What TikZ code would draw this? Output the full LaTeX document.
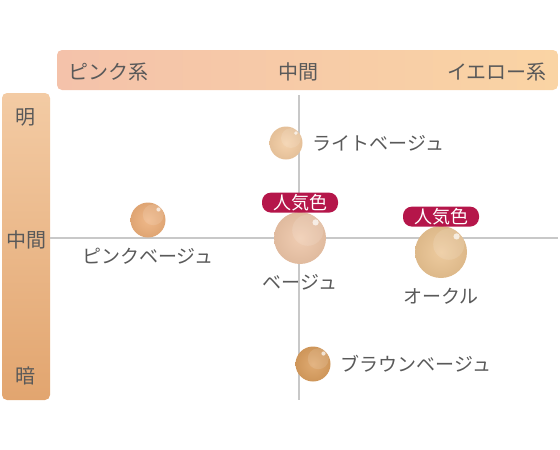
\documentclass[tikz,border=0pt]{standalone}
\usepackage{fontspec}
\setmainfont{Noto Sans CJK JP}
\usepackage{tikz}
\usetikzlibrary{positioning, calc}
\definecolor{txtgray}{HTML}{595959}
\definecolor{axisgray}{HTML}{C8C8C8}
\definecolor{badgered}{HTML}{B5164A}
\definecolor{barpinkL}{HTML}{F4C2AA}
\definecolor{barpinkR}{HTML}{FAD4A4}
\definecolor{sidetop}{HTML}{F3CBA4}
\definecolor{sidebot}{HTML}{E2A56F}
\definecolor{lightbeige}{HTML}{F3CCA2}
\definecolor{pinkbeige}{HTML}{EDAF7A}
\definecolor{beige}{HTML}{EEC6A8}
\definecolor{ochre}{HTML}{EBC492}
\definecolor{brownbeige}{HTML}{DB9F5F}

\begin{document}
\begin{tikzpicture}[
    x=1pt, y=-1pt,
    % ── styles ──
    ball/.style={circle, inner sep=0pt, minimum size=#1,
                 shading=radial, draw=none,
                 path picture={
                   \fill[white, opacity=0.12]
                     ($(path picture bounding box.center)!0.3!(path picture bounding box.north east)$)
                     circle (0.3*#1);
                   \fill[white, opacity=0.7]
                     ($(path picture bounding box.center)!0.6!(path picture bounding box.north east)$)
                     circle (0.06*#1);
                 }},
    shadeof/.style={inner color=#1!88!white, outer color=#1!94!black},
    badge/.style={rectangle, rounded corners=9pt, fill=badgered, text=white,
                  minimum width=76pt, minimum height=20pt, inner sep=0pt,
                  font=\fontsize{18}{18}\selectfont},
    lbl/.style={text=txtgray, font=\fontsize{19}{19}\selectfont, inner sep=0pt},
    axislbl/.style={text=txtgray, font=\fontsize{20}{20}\selectfont, inner sep=0pt},
    axisline/.style={draw=axisgray, line width=1.2pt}
]
\useasboundingbox (0,0) rectangle (560,450);

% ═══ Bars ═══
\shade[left color=barpinkL, right color=barpinkR, rounded corners=5pt]
  (57,50) rectangle (558,90);
\shade[top color=sidetop, bottom color=sidebot, rounded corners=5pt]
  (2,93) rectangle (50,400);

% ═══ Axes ═══
\coordinate (vtop) at (299,95);
\coordinate (vbot) at (299,400);
\coordinate (hleft) at (50,238);
\coordinate (hright) at (558,238);
\draw[axisline] (vtop) -- (vbot);
\draw[axisline] (hleft) -- (hright);

% ═══ Axis labels ═══
\node[axislbl] (pink)   at (108,72)  {ピンク系};
\node[axislbl] (midx)   at (298,72)  {中間};
\node[axislbl] (yellow) at (497,72)  {イエロー系};
\node[axislbl] (light)  at (26,117)  {明};
\node[axislbl] (midy)   at (26,240)  {中間};
\node[axislbl] (dark)   at (26,376)  {暗};

% ═══ Balls ═══
\node[ball=33pt, shadeof=lightbeige] (lb) at (286,143) {};
\node[ball=35pt, shadeof=pinkbeige]  (pb) at (148,220) {};
\node[ball=52pt, shadeof=beige]      (bg) at (300,238) {};
\node[ball=52pt, shadeof=ochre]      (oc) at (441,252) {};
\node[ball=35pt, shadeof=brownbeige] (br) at (313,364) {};

% ═══ Names ═══
\node[lbl, right=10pt of lb] (lbname) {ライトベージュ};
\node[lbl, below=10pt of pb] (pbname) {ピンクベージュ};
\node[lbl, below=10pt of bg] (bgname) {ベージュ};
\node[lbl, below=10pt of oc] (ocname) {オークル};
\node[lbl, right=10pt of br] (brname) {ブラウンベージュ};

% ═══ Popular badges ═══
\node[badge, above=-1pt of bg] (bgpop) {人気色};
\node[badge, above=-1pt of oc] (ocpop) {人気色};

\end{tikzpicture}
\end{document}
